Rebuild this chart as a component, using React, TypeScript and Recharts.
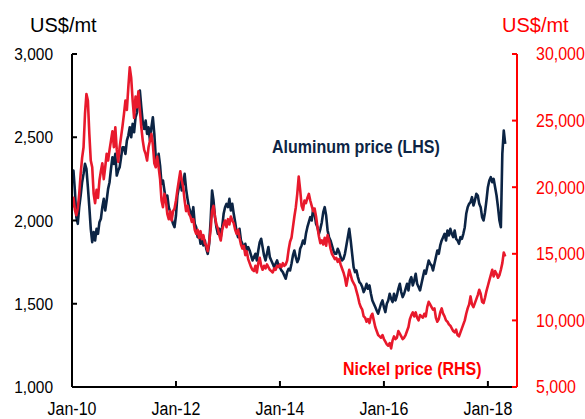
import React from 'react';
import { ComposedChart, Line, XAxis, YAxis } from 'recharts';

const START_YEAR = 2010;
const STEPS_PER_YEAR = 36;
const xTicks = [2010, 2012, 2014, 2016, 2018];
const leftTicks = [1000, 1500, 2000, 2500, 3000];
const rightTicks = [5000, 10000, 15000, 20000, 25000, 30000];

// Aluminum price, US$/mt (LHS), ~3 readings per month from Jan-2010
const aluminum = [
  2250,2300,2180, 2020,1980,2080, 2150,2230,2280, 2340,2310,2200, 2080,1950,1870, 1930,1880,1950, 1920,1990,2010, 2080,2130,2060, 2120,2190,2230, 2310,2380,2340, 2400,2270,2300, 2320,2380,2440,
  2440,2400,2480, 2510,2560,2500, 2580,2530,2620, 2650,2720,2780, 2680,2590,2550, 2600,2520,2560, 2480,2560,2620, 2520,2380,2350, 2400,2330,2220, 2240,2180,2120, 2150,2080,2050, 2010,1980,1960,
  2030,2150,2200, 2250,2180,2220, 2280,2190,2130, 2080,2050,2020, 2080,1980,1960, 1900,1920,1860, 1890,1850,1880, 1830,1800,1860, 2000,2180,2120, 2020,1960,1920, 1950,1900,1960, 2040,2080,2100,
  2080,2130,2060, 2100,2040,1990, 1930,1900,1950, 1880,1860,1830, 1860,1820,1840, 1820,1790,1760, 1780,1800,1760, 1820,1870,1890, 1840,1790,1760, 1800,1840,1780, 1760,1740,1720, 1740,1760,1730,
  1720,1700,1690, 1670,1650,1690, 1710,1700,1740, 1790,1820,1780, 1750,1770,1830, 1850,1880,1860, 1920,1960,1990, 2020,2000,2070, 2040,1980,1960, 1920,1950,1990, 2050,2080,2030, 1940,1900,1880,
  1850,1820,1800, 1800,1830,1810, 1780,1760,1770, 1800,1850,1900, 1950,1880,1800, 1720,1690,1700, 1660,1630,1620, 1600,1570,1590, 1620,1590,1610, 1560,1520,1500, 1480,1460,1440, 1470,1500,1520,
  1480,1450,1500, 1520,1560,1530, 1510,1560,1520, 1550,1590,1620, 1570,1540,1560, 1590,1620,1580, 1640,1660,1610, 1640,1680,1620, 1600,1580,1620, 1660,1700,1680, 1720,1760,1740, 1730,1700,1740,
  1780,1820,1800, 1850,1880,1900, 1920,1880,1940, 1910,1950,1920, 1900,1940,1890, 1880,1860,1900, 1890,1920,1960, 2040,2080,2100, 2110,2140,2090, 2120,2160,2150, 2100,2080,2020, 2000,2050,2120,
  2200,2240,2260, 2230,2250,2200, 2150,2080,2000, 1960,2400,2540, 2460,
];

// Nickel price, US$/mt (RHS)
const nickel = [
  18500,19200,18300, 17900,18400,19500, 21000,22200,23000, 25500,27000,26500, 24000,22000,21500, 19500,18800,19800, 19200,20500,21200, 21800,20600,21500, 22500,22000,22800, 23500,24200,23000, 24500,22800,21900, 23000,23800,24600,
  25500,26500,25800, 27500,29000,28200, 26500,25200,26800, 26000,27200,25800, 24500,23500,22800, 22500,22000,23000, 23500,24000,23200, 21800,21500,22300, 21500,20600,19000, 18500,19500,19000, 18000,17600,18200, 17500,18200,18400,
  19000,19800,20500, 21200,20500,20000, 19000,18200,18600, 18000,17800,17400, 17600,16800,16500, 16800,16200,16700, 16100,16400,15800, 15600,15200,15900, 16800,18200,18600, 17800,17200,16900, 16400,16000,16800, 17200,17500,17000,
  17600,17200,17800, 17500,17300,16800, 16500,16800,16200, 15700,15400,15600, 14900,15200,14600, 14300,14000,13800, 13700,14100,13600, 14300,14700,14100, 13800,14100,13900, 14200,14000,13800, 13700,13600,13900, 13800,14100,14000,
  14200,14000,14300, 14100,14200,14500, 15300,15900,16200, 17000,17800,18500, 19500,20800,19800, 18600,18300,19000, 18800,19200,19500, 19000,18600,18200, 18400,17800,17000, 16300,15800,16000, 15700,16200,15600, 16400,16000,15400,
  15000,14800,14600, 14700,14400,14600, 14200,13900,13600, 13200,12600,13200, 13800,13400,13000, 12800,12600,12200, 11800,11300,11000, 10800,10300,10200, 9900,10100,9800, 10300,10500,10000, 9500,9200,8900, 8800,8700,8900,
  8600,8400,8200, 8100,8300,7900, 8500,8800,8600, 8700,9200,9000, 8800,8600,8700, 8900,9200,9500, 10100,10400,10600, 10300,10600,10200, 10000,10400,10300, 10200,10500,10300, 11000,11400,11200, 11000,10800,10900,
  10200,9900,10100, 10600,10900,10500, 10300,10000,9900, 9700,9600,9400, 9200,9100,9300, 8900,8800,9100, 9400,9700,10000, 10500,10900,11200, 11800,11200,11000, 11300,11600,11900, 12300,12000,11400, 11300,11700,12200,
  12600,13000,13400, 13800,13300,13700, 13500,13200,13400, 13800,14300,15100, 14800,
];

const data = aluminum.map((a, i) => ({
  t: START_YEAR + i / STEPS_PER_YEAR,
  alu: a,
  ni: nickel[i],
}));

const FONT = '"Liberation Sans", Arial, Helvetica, sans-serif';
const NAVY = '#0C2444';
const RED_LINE = '#E8192C';
const RED = '#FF0000';
const STRETCH = 1.1;

const fmt = (v: number) => v.toLocaleString('en-US');

const LeftTick = (props: any) => {
  const { x, y, payload } = props;
  return (
    <g>
      <line x1={x} x2={x + 5} y1={y} y2={y} stroke="#000" strokeWidth={2} />
      <text
        transform={`translate(${x - 19},${y}) scale(1,${STRETCH})`}
        textAnchor="end"
        dy="0.36em"
        fontSize={15.5}
        fontFamily={FONT}
        fill="#000"
      >
        {fmt(payload.value)}
      </text>
    </g>
  );
};

const RightTick = (props: any) => {
  const { x, y, payload } = props;
  return (
    <g>
      <line x1={x - 5} x2={x} y1={y} y2={y} stroke={RED} strokeWidth={2} />
      <text
        transform={`translate(${x + 19},${y}) scale(1,${STRETCH})`}
        textAnchor="start"
        dy="0.36em"
        fontSize={16}
        fontFamily={FONT}
        fill={RED}
      >
        {fmt(payload.value)}
      </text>
    </g>
  );
};

const BottomTick = (props: any) => {
  const { x, y, payload } = props;
  const yy = String(payload.value).slice(2);
  return (
    <g>
      <line x1={x} x2={x} y1={y} y2={y - 6} stroke="#000" strokeWidth={2} />
      <text
        transform={`translate(${x},${y + 21.5}) scale(1,${STRETCH})`}
        textAnchor="middle"
        dy="0.36em"
        fontSize={16}
        fontFamily={FONT}
        fill="#000"
      >
        {`Jan-${yy}`}
      </text>
    </g>
  );
};

const Overlay = () => (
  <svg
    width={585}
    height={419}
    style={{ position: 'absolute', left: 0, top: 0, pointerEvents: 'none' }}
  >
    <text transform="translate(30,25)" dy="0.36em" fontSize={20} fontFamily={FONT} fill="#000">
      US$/mt
    </text>
    <text transform="translate(502,25)" dy="0.36em" fontSize={20} fontFamily={FONT} fill={RED}>
      US$/mt
    </text>
    <text
      transform={`translate(272,147) scale(1,${STRETCH})`}
      dy="0.36em"
      fontSize={16}
      fontWeight="bold"
      fontFamily={FONT}
      fill={NAVY}
    >
      Aluminum price (LHS)
    </text>
    <text
      transform={`translate(343,369) scale(1,${STRETCH})`}
      dy="0.36em"
      fontSize={16}
      fontWeight="bold"
      fontFamily={FONT}
      fill={RED}
    >
      Nickel price (RHS)
    </text>
  </svg>
);

export default function App() {
  return (
    <div style={{ position: 'absolute', left: 0, top: 0, width: 585, height: 419, background: '#fff' }}>
      <ComposedChart
        width={585}
        height={419}
        data={data}
        margin={{ top: 54, right: 8, bottom: 0, left: 12 }}
      >
        <XAxis
          dataKey="t"
          type="number"
          domain={[2010, 2018.56]}
          ticks={xTicks}
          interval={0}
          height={32}
          tickSize={0}
          tickMargin={0}
          tickLine={false}
          axisLine={{ stroke: '#000', strokeWidth: 2 }}
          tick={<BottomTick />}
          allowDataOverflow
        />
        <YAxis
          yAxisId="left"
          orientation="left"
          domain={[1000, 3000]}
          ticks={leftTicks}
          interval={0}
          width={60}
          tickSize={0}
          tickMargin={0}
          tickLine={false}
          axisLine={{ stroke: '#000', strokeWidth: 2 }}
          tick={<LeftTick />}
          allowDataOverflow
        />
        <YAxis
          yAxisId="right"
          orientation="right"
          domain={[5000, 30000]}
          ticks={rightTicks}
          interval={0}
          width={60}
          tickSize={0}
          tickMargin={0}
          tickLine={false}
          axisLine={{ stroke: RED, strokeWidth: 2 }}
          tick={<RightTick />}
          allowDataOverflow
        />
        <Line
          yAxisId="left"
          dataKey="alu"
          type="linear"
          stroke={NAVY}
          strokeWidth={2.6}
          strokeLinejoin="round"
          dot={false}
          activeDot={false}
          isAnimationActive={false}
        />
        <Line
          yAxisId="right"
          dataKey="ni"
          type="linear"
          stroke={RED_LINE}
          strokeWidth={2.6}
          strokeLinejoin="round"
          dot={false}
          activeDot={false}
          isAnimationActive={false}
        />
      </ComposedChart>
      <Overlay />
    </div>
  );
}
